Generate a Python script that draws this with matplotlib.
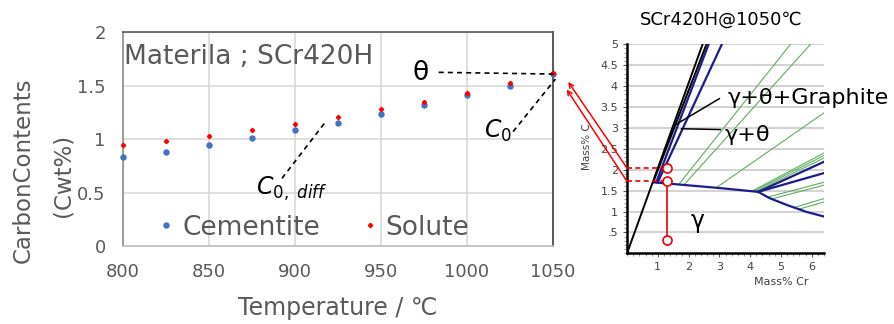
import matplotlib.pyplot as plt
from matplotlib.ticker import MultipleLocator

# left chart data
temps = [800, 825, 850, 875, 900, 925, 950, 975, 1000, 1025, 1050]
cementite = [0.83, 0.88, 0.94, 1.01, 1.08, 1.15, 1.23, 1.32, 1.41, 1.50, 1.61]
solute = [0.94, 0.98, 1.03, 1.08, 1.14, 1.21, 1.28, 1.35, 1.43, 1.52, 1.62]
x_ticks = [800, 850, 900, 950, 1000, 1050]
y_ticks = [0, 0.5, 1, 1.5, 2]
y_tick_labels = ["0", "0.5", "1", "1.5", "2"]

# phase diagram (Mass% Cr, Mass% C)
black_lines = [
    ([0.0, 2.47], [0.0, 5.03]),
    ([0.85, 2.58], [1.70, 5.0]),
]
blue_lines = [
    ([0.85, 1.38, 2.95, 4.26], [1.70, 1.665, 1.565, 1.47]),
    ([0.95, 2.65], [1.70, 5.0]),
    ([1.0, 3.08], [1.70, 5.0]),
    ([4.26, 6.4], [1.47, 2.19]),
    ([4.26, 6.4], [1.47, 1.92]),
    ([4.26, 4.63, 5.18, 5.83, 6.4], [1.47, 1.32, 1.16, 0.99, 0.88]),
]
green_lines = [
    ([1.70, 5.31], [1.665, 5.0]),
    ([1.87, 5.96], [1.655, 5.0]),
    ([2.91, 6.4], [1.575, 3.36]),
    ([4.04, 6.4], [1.48, 2.40]),
    ([4.10, 6.4], [1.478, 2.34]),
    ([4.18, 6.4], [1.474, 2.28]),
    ([4.55, 6.4], [1.34, 1.70]),
    ([4.70, 6.4], [1.30, 1.63]),
    ([5.45, 6.4], [1.10, 1.31]),
    ([5.61, 6.4], [1.06, 1.23]),
]
red_cr = 1.31
red_c = [2.04, 1.72, 0.31]
arrow_head_cr = [-1.91, -1.96]
arrow_head_c = [4.10, 3.92]
inset_y_ticks = [0.5, 1, 1.5, 2, 2.5, 3, 3.5, 4, 4.5, 5]
inset_y_labels = [".5", "1", "1.5", "2", "2.5", "3", "3.5", "4", "4.5", "5"]
inset_x_ticks = [1, 2, 3, 4, 5, 6]

grey = "#595959"

fig = plt.figure(figsize=(8.95, 3.24), dpi=100)

# ---- left: carbon contents vs temperature ----
ax1 = fig.add_axes([0.1369, 0.2407, 0.4810, 0.6605])
ax1.plot(temps, cementite, "o", color="#4472C4", markersize=3.6, clip_on=False,
         zorder=3, label="Cementite")
ax1.plot(temps, solute, "D", color="#FF0000", markersize=2.2, clip_on=False,
         zorder=4, label="Solute")
ax1.set_xlim(800, 1050)
ax1.set_ylim(0, 2)
ax1.set_xticks(x_ticks)
ax1.set_yticks(y_ticks)
ax1.set_yticklabels(y_tick_labels)
ax1.grid(True, color="#d9d9d9", lw=1.2)
ax1.set_axisbelow(True)
ax1.tick_params(length=0, pad=12, labelsize=13, labelcolor=grey)
ax1.spines["left"].set_color("#8c8c8c")
ax1.spines["bottom"].set_color("#bfbfbf")
ax1.spines["top"].set_color("#595959")
ax1.spines["right"].set_color("#404040")
for s in ax1.spines.values():
    s.set_linewidth(1.2)

ax1.set_xlabel("Temperature / ℃", fontsize=17, color=grey, va="center")
ax1.xaxis.set_label_coords(0.5, -0.29)
fig.text(23 / 895, 1 - 170 / 324, "CarbonContents", rotation=90, fontsize=16.5,
         color=grey, ha="center", va="center")
fig.text(63 / 895, 1 - 175 / 324, "(Cwt%)", rotation=90, fontsize=16.5,
         color=grey, ha="center", va="center")

ax1.text(801, 1.77, "Materila ; SCr420H", fontsize=19, color=grey,
         ha="left", va="center")

ax1.legend(loc="center left", bbox_to_anchor=(0.083, 0.0855), ncol=2,
           frameon=False, fontsize=19, handlelength=0.6, handletextpad=0.3,
           columnspacing=1.6, borderpad=0, borderaxespad=0, markerscale=1.0,
           labelcolor=grey)

dash = dict(color="black", lw=1.2, ls=(0, (3, 2.5)), clip_on=False, zorder=5)
ax1.plot([983.6, 1050.4], [1.623, 1.607], **dash)
ax1.plot([1026.8, 1051.4], [1.069, 1.56], **dash)
ax1.plot([892.6, 917.2], [0.632, 1.146], **dash)
ax1.text(972.9, 1.614, "θ", fontsize=19, ha="center", va="center")
ax1.text(1010, 1.08, r"$\mathit{C_{0}}$", fontsize=17, ha="left", va="center")
ax1.text(877.6, 0.536, r"$\mathit{C_{0,\ diff}}$", fontsize=17, ha="left",
         va="center")

# ---- right: phase diagram ----
ax2 = fig.add_axes([0.7006, 0.2182, 0.2201, 0.6451])
ax2.set_xlim(0, 6.4)
ax2.set_ylim(0, 5)
ax2.yaxis.grid(True, color="#d3d3d3", lw=1.5)
ax2.set_axisbelow(True)
for xs, ys in green_lines:
    ax2.plot(xs, ys, color="#5fae5f", lw=0.8)
for xs, ys in blue_lines:
    ax2.plot(xs, ys, color="#1c1c8a", lw=1.6)
for xs, ys in black_lines:
    ax2.plot(xs, ys, color="black", lw=1.4)

ax2.plot([red_cr, red_cr], red_c[1:], color="#e8000b", lw=1.2, zorder=5)
for c in red_c[:2]:
    ax2.plot([0, red_cr], [c, c], color="#e8000b", lw=1.2, ls=(0, (3, 2)),
             zorder=5, clip_on=False)
ax2.plot([red_cr] * len(red_c), red_c, "o", ms=6.5, mfc="white", mec="#e8000b",
         mew=1.2, zorder=6)
for c, hx, hy in zip(red_c[:2], arrow_head_cr, arrow_head_c):
    ax2.annotate("", xy=(hx, hy), xytext=(0, c), annotation_clip=False,
                 arrowprops=dict(arrowstyle="->", color="#ff0000", lw=1.1,
                                 shrinkA=0, shrinkB=0, mutation_scale=8))

ax2.set_xticks(inset_x_ticks)
ax2.set_yticks(inset_y_ticks)
ax2.set_yticklabels(inset_y_labels)
ax2.xaxis.set_minor_locator(MultipleLocator(0.2))
ax2.yaxis.set_minor_locator(MultipleLocator(0.1))
ax2.tick_params(which="major", length=3, width=0.8, labelsize=8,
                labelcolor="#404040", color="#555555", pad=3.5)
ax2.tick_params(which="minor", length=2, width=0.6, color="#888888")
for side in ["top", "right"]:
    ax2.spines[side].set_visible(False)
for side in ["left", "bottom"]:
    ax2.spines[side].set_linewidth(1.8)
    ax2.spines[side].set_color("black")

ax2.set_ylabel("Mass% C", fontsize=7.5, color="#404040", va="center")
ax2.yaxis.set_label_coords(-0.203, 0.509)
ax2.set_xlabel("Mass% Cr", fontsize=8, color="#404040", va="center")
ax2.xaxis.set_label_coords(0.782, -0.136)
ax2.text(0.48, 1.116, "SCr420H@1050℃", transform=ax2.transAxes, fontsize=13,
         ha="center", va="center")

ax2.text(3.28, 3.72, "γ+θ+Graphite", fontsize=16, ha="left", va="center",
         clip_on=False)
ax2.plot([3.0, 1.56], [3.7, 3.07], color="black", lw=1.1)
ax2.text(3.18, 2.84, "γ+θ", fontsize=16, ha="left", va="center")
ax2.plot([3.03, 1.77], [2.96, 2.98], color="black", lw=1.1)
ax2.text(2.28, 0.77, "γ", fontsize=17, ha="center", va="center")

fig.savefig("out.png", dpi=100)
